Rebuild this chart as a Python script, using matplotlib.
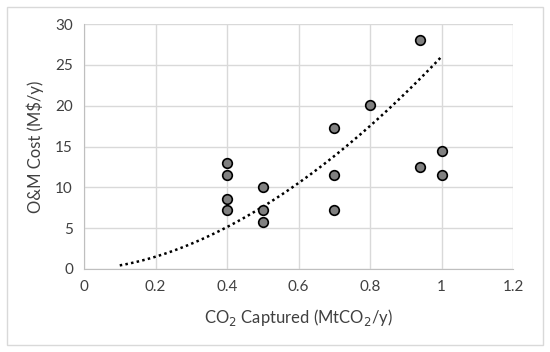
import numpy as np
import matplotlib.pyplot as plt
from matplotlib.patches import Rectangle

# datos
captured = [0.4, 0.4, 0.4, 0.4, 0.5, 0.5, 0.5, 0.7, 0.7, 0.7, 0.8, 0.94, 0.94, 1.0, 1.0]
om_cost = [13.0, 11.5, 8.6, 7.2, 10.1, 7.2, 5.8, 17.3, 11.5, 7.2, 20.1, 28.1, 12.5, 14.4, 11.5]
x_ticks = [0, 0.2, 0.4, 0.6, 0.8, 1, 1.2]
y_ticks = [0, 5, 10, 15, 20, 25, 30]

# linea de tendencia potencial: y = a * x^b
trend_a = 26.0
trend_b = 1.77
trend_x = [0.1, 1.0]

plt.rcParams['font.family'] = ['Lato', 'DejaVu Sans']

fig = plt.figure(figsize=(5.5, 3.52), dpi=100)
ax = fig.add_axes([84 / 550, 1 - 269 / 352, (513 - 84) / 550, (269 - 24) / 352])

xt = np.linspace(trend_x[0], trend_x[1], 100)
ax.plot(xt, trend_a * xt ** trend_b, color='black', linestyle=(0, (1, 1.3)), linewidth=1.8, zorder=2)

ax.scatter(captured, om_cost, s=48, facecolor='#808080', edgecolor='black', linewidth=1.2, zorder=3)

ax.set_xlim(0, 1.2)
ax.set_ylim(0, 30)
ax.set_xticks(x_ticks)
ax.set_xticklabels(['0', '0.2', '0.4', '0.6', '0.8', '1', '1.2'])
ax.set_yticks(y_ticks)
ax.grid(True, color='#d9d9d9', linewidth=1)
ax.set_axisbelow(True)
for s in ['top', 'right']:
    ax.spines[s].set_visible(False)
for s in ['left', 'bottom']:
    ax.spines[s].set_color('#bfbfbf')
ax.tick_params(length=0, labelsize=11, colors='#404040', pad=8)
ax.set_xlabel('CO$_2$ Captured (MtCO$_2$/y)', fontsize=12, color='#404040', labelpad=9)
ax.set_ylabel('O&M Cost (M$/y)', fontsize=12, color='#404040', labelpad=8)

fig.patches.append(Rectangle((7 / 550, 7 / 352), 536 / 550, 338 / 352, transform=fig.transFigure,
                             fill=False, edgecolor='#d9d9d9', linewidth=1))

plt.savefig('out.png')
